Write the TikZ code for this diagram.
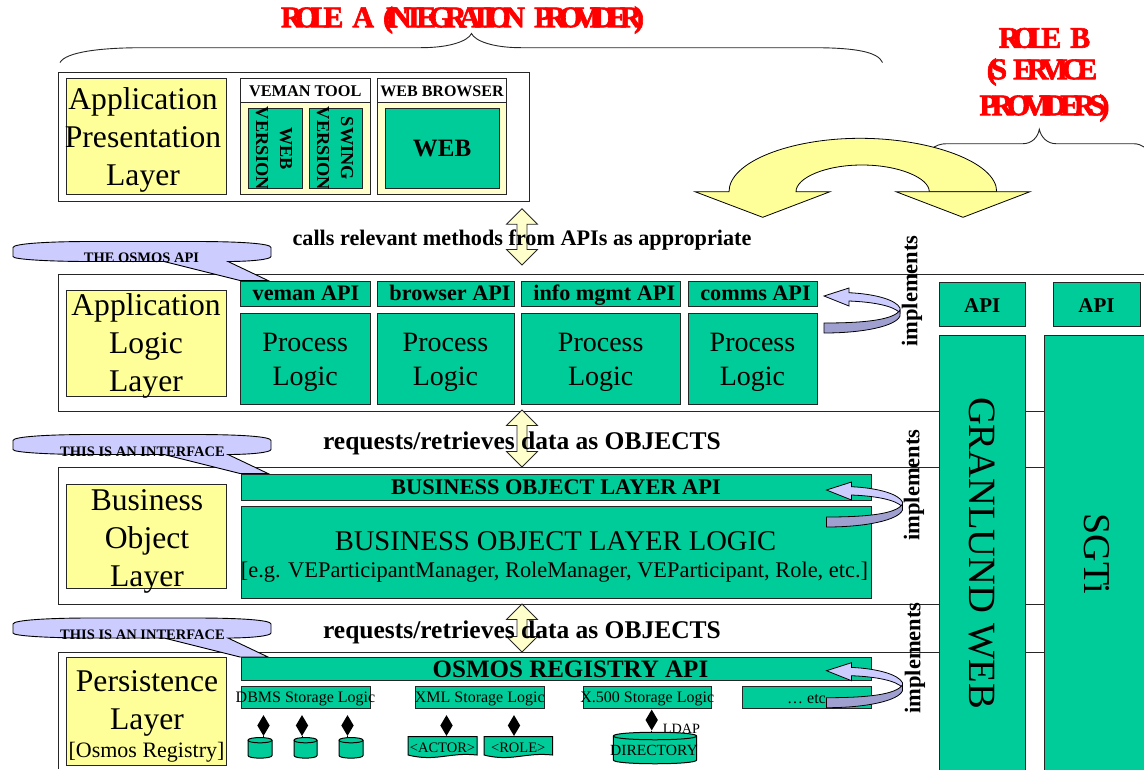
\documentclass[tikz,border=0pt]{standalone}
\usepackage{fontspec}
\setmainfont{Liberation Serif}
\newfontfamily\squeezefont[LetterSpace=-25,BoldFeatures={FakeBold=2}]{Liberation Serif}
\newfontfamily\squeezewider[LetterSpace=-21,BoldFeatures={FakeBold=2}]{Liberation Serif}
\usetikzlibrary{calc,positioning,shapes.geometric}
\definecolor{boxgreen}{HTML}{00CC99}
\definecolor{boxyellow}{HTML}{FFFF99}
\definecolor{paleyellow}{HTML}{FFFFCC}
\definecolor{notelilac}{HTML}{CCCCFF}
\definecolor{darklilac}{HTML}{A0A0D0}
\definecolor{rolered}{HTML}{FF0000}
% box from two corners, its text goes in a node of its own so it may overflow
\newcommand{\layerbox}[8][boxgreen]{
  \node[draw=black!85,line width=1pt,fill=#1,inner sep=0pt,outer sep=0pt,
        minimum width={(#5-#3)*1pt},minimum height={(#6-#4)*1pt}]
        (#2) at ({(#3+#5)/2},{(#4+#6)/2}) {};
  \node[align=center,inner sep=0pt,#7] (#2txt) at (#2) {#8};
}
% drum from two corners, its name is the middle of its top
\newcommand{\drum}[6]{
  \draw[line width=1pt,fill=boxgreen] (#2,#3+#6) .. controls (#2,#3) and (#4,#3) .. (#4,#3+#6)
    -- (#4,#5-#6) .. controls (#4,#5) and (#2,#5) .. (#2,#5-#6) -- cycle;
  \draw[line width=1pt] (#2,#3+#6) .. controls (#2,#3+2*#6) and (#4,#3+2*#6) .. (#4,#3+#6);
  \coordinate (#1) at ({(#2+#4)/2},#3);
}
\tikzset{
  txt/.style 2 args={font=\fontsize{#1}{#2}\selectfont},
  btxt/.style 2 args={font=\bfseries\fontsize{#1}{#2}\selectfont},
  layername/.style={txt={31.6}{38}},
  layerline/.style={draw=black!85,line width=1pt},
  bracket/.style={draw=black!85,line width=0.9pt},
  redtitle/.style={text=rolered,inner sep=0pt,font=\squeezefont\bfseries\fontsize{30}{35}\selectfont},
  vertword/.style={inner sep=0pt,rotate=90,btxt={22.5}{26}},
  blackdia/.style={diamond,fill=black,inner sep=0pt,minimum width=12.5pt,minimum height=21pt,aspect=1},
  pics/turnarrow/.style={code={
    \draw[black,line width=0.8pt,fill=notelilac] (0,0) -- (25,-8) -- (25,-3.3)
      .. controls (52,-2) and (72,4) .. (76,12) -- (76,17) .. controls (70,10) and (50,6) .. (25,5)
      -- (25,10) -- cycle;
    \draw[black,line width=0.8pt,fill=darklilac] (0,27) .. controls (40,27) and (70,24) .. (76,14)
      -- (76,20) .. controls (72,30) and (40,37) .. (0,37) -- cycle;
  }}
}
\begin{document}
\begin{tikzpicture}[x=1pt,y=-1pt]
\useasboundingbox (0,0) rectangle (1144,769);
% role titles and their braces
\node[redtitle] (rolea) at (462.5,20) {ROLE\hspace{9pt}A\hspace{9pt}(INTEGRATION\hspace{9pt}PROVIDER)};
\node[redtitle] (roleb) at (1044.5,38) {ROLE\hspace{9pt}B};
\node[redtitle,font=\squeezewider\bfseries\fontsize{30}{35}\selectfont] (rolebb) at (1042,72) {(S\kern6pt ERVICE};
\node[redtitle,font=\squeezewider\bfseries\fontsize{30}{35}\selectfont] (rolebc) at (1044.5,108) {PROVIDERS)};
\draw[bracket] (60,62.5) .. controls (66,52) and (100,47.7) .. (143,47.7) -- (421,47.7)
  .. controls (450,47.7) and (468,41) .. (471.5,33.5) .. controls (475,41) and (493,47.7) .. (521,47.7)
  -- (813,47.7) .. controls (856,47.7) and (878,52) .. (882.5,62.5);
\draw[bracket] (930,150) .. controls (936,145) and (941,143.7) .. (947,143.7) -- (1023,143.7)
  .. controls (1032,143.7) and (1038,137) .. (1039.3,129.3) .. controls (1041,137) and (1047,143.7) .. (1056,143.7)
  -- (1133,143.7) .. controls (1138,143.7) and (1141,145) .. (1144,147);
% big swap arrow
\draw[black,line width=0.8pt,fill=boxyellow] (695,191.7) -- (762.7,217.3) -- (830,191.7) -- (796,191.7)
  .. controls (796,178) and (825,165) .. (862,165) .. controls (899,165) and (929.3,178) .. (929.3,191.7)
  -- (996.7,191.7) .. controls (996.7,162) and (930,138.3) .. (860,138.3)
  .. controls (790,138.3) and (729,162) .. (729,191.7) -- cycle;
\draw[black,line width=0.8pt,fill=boxyellow] (896,191.7) -- (963,217.3) -- (1030,191.7) -- cycle;
% the layers
\layerbox[white]{presentation}{58}{72}{529}{201}{}{}
\draw[layerline] (1144,274) -- (58,274) -- (58,411) -- (1144,411);
\draw[layerline] (1144,467) -- (58,467) -- (58,604) -- (1144,604);
\draw[layerline] (1144,652) -- (58,652) -- (58,769);
% the notes on the interfaces
\foreach \nname/\ny/\ntext/\nx/\nd in {apinote/241.5/THE OSMOS API/141.5/16,
    bolnote/434.5/THIS IS AN INTERFACE/142.5/17, regnote/618/THIS IS AN INTERFACE/142.5/16.5}{
  \draw[black,line width=0.9pt,fill=notelilac,shift={(0,\ny)}] (13,6) .. controls (13,2) and (50,0) .. (90,0) -- (195,0)
    .. controls (240,0) and (271,2) .. (271,6) -- (271,15) .. controls (271,18) and (250,20) .. (228,20)
    -- (268,39) -- (240,39) -- (164,20) -- (90,20) .. controls (50,20) and (13,18) .. (13,15) -- cycle;
  \node[inner sep=0pt,btxt={14.5}{17}] (\nname) at (\nx,\ny+\nd) {\ntext};
}
% yellow name boxes
\layerbox[boxyellow]{apppres}{66}{78}{226}{194.5}{layername,xshift=-3pt,yshift=-4pt}{Application\\Presentation\\Layer}
\layerbox[boxyellow]{applogic}{66}{290}{226}{396}{layername,yshift=-3pt}{Application\\Logic\\Layer}
\layerbox[boxyellow]{busobj}{66}{484}{226}{588}{layername,xshift=1pt,yshift=-5pt}{Business\\Object\\Layer}
\layerbox[boxyellow]{persist}{66}{657}{226.5}{765}{}{}
\node[align=center,inner sep=0pt,layername] (persisttop) at (147,703) {Persistence\\Layer};
\node[inner sep=0pt,txt={22}{26}] (registry) at (146.5,752.5) {[Osmos Registry]};
% presentation layer
\layerbox[white]{vemanhead}{240.5}{78}{370}{102}{btxt={16.3}{19},yshift=-1pt}{VEMAN TOOL}
\layerbox[paleyellow]{vemanbody}{240.5}{102}{370}{194.5}{}{}
\layerbox[white]{webhead}{377.5}{78}{506.5}{102}{btxt={16}{19},yshift=-1pt}{WEB BROWSER}
\layerbox[paleyellow]{webbody}{377.5}{102}{506.5}{194.5}{}{}
\layerbox{webver}{248}{108}{302}{188.5}{}{}
\layerbox{swingver}{309}{108}{362.5}{188.5}{}{}
\layerbox{webapp}{385}{108}{499}{188.5}{btxt={25}{30}}{WEB}
\node[rotate=-90,align=center,inner sep=0pt,btxt={18.3}{24}] (webvertxt) at (274,148.5) {WEB\\VERSION};
\node[rotate=-90,align=center,inner sep=0pt,btxt={18.3}{24}] (swingvertxt) at (335,148.5) {SWING\\VERSION};
% application logic layer
\foreach \bname/\bl/\br/\bdx/\btext in {veman/240.5/370/0.75/veman API,browser/377/514/4.5/browser API,
    infomgmt/521/680.5/3.5/info mgmt API,comms/688/817/3/comms API}{
  \layerbox{\bname api}{\bl}{281}{\br}{306.5}{btxt={22.2}{26},xshift=\bdx pt,yshift=-1.5pt}{\strut\btext}
  \layerbox{\bname proc}{\bl}{313}{\br}{404}{txt={28}{34},yshift=-4pt}{Process\\Logic}
}
% business object layer
\layerbox{bolapi}{241}{474}{871}{500}{btxt={22.4}{26}}{BUSINESS OBJECT LAYER API}
\layerbox{bollogic}{241}{506}{871}{598}{}{}
\node[inner sep=0pt,txt={28.6}{33}] (bollogictop) at (555.5,541) {BUSINESS OBJECT LAYER LOGIC};
\node[inner sep=0pt,txt={22.4}{26}] (bollogiceg) at (554.5,572) {[e.g. VEParticipantManager, RoleManager, VEParticipant, Role, etc.]};
% persistence layer
\layerbox{regapi}{241}{657}{871}{680}{}{}
\node[inner sep=0pt,btxt={25}{29}] (regapitxt) at (570.5,669.5) {OSMOS REGISTRY API};
\layerbox{dbms}{241}{686}{370}{708.5}{txt={16}{19},yshift=-2pt}{DBMS Storage Logic}
\layerbox{xml}{415}{686}{544.5}{708.5}{txt={16}{19},yshift=-2pt}{XML Storage Logic}
\layerbox{xfive}{583}{686}{711.5}{708.5}{txt={16}{19},yshift=-2pt}{X.500 Storage Logic}
\layerbox{etcbox}{742}{686}{871}{708.5}{txt={16}{19},yshift=-2pt}{… etc}
\foreach \dname/\dx/\cname/\cl/\cr in {diaa/263.5/cyla/248/272,diab/302/cylb/294/317,diac/347.5/cylc/339/363}{
  \node[blackdia] (\dname) at (\dx,725.5) {};
  \drum{\cname}{\cl}{736.7}{\cr}{759}{3.5}
  \draw[line width=1pt] (\dname) -- (\dname |- \cname);
}
\node[blackdia] (diad) at (446.5,725.5) {};
\node[blackdia] (diae) at (514,725.5) {};
\foreach \dname/\dl/\dr/\dtxt in {actor/408/477/{<ACTOR>},role/484/552.5/{<ROLE>}}{
  \draw[line width=1pt,fill=boxgreen] (\dl,736.7) -- (\dr,736.7) -- (\dr,755)
    .. controls ({\dl+0.6*(\dr-\dl)},752) and ({\dl+0.4*(\dr-\dl)},762) .. (\dl,755) -- cycle;
  \node[inner sep=0pt,txt={14.5}{17}] (\dname) at ({(\dl+\dr)/2},748) {\dtxt};
}
\node[blackdia] (diaf) at (651.7,720) {};
\drum{directory}{613.3}{731}{696.7}{765}{5}
\draw[line width=1pt] (diaf) -- (diaf |- directory);
\node[inner sep=0pt,txt={15.5}{18}] (directorytxt) at (654,750) {DIRECTORY};
\node[inner sep=0pt,txt={14.2}{17}] (ldap) at (681.5,728.5) {LDAP};
% the two service providers
\layerbox{granapi}{939}{282}{1025.5}{326}{btxt={21}{25},yshift=-2pt}{API}
\layerbox{sgtiapi}{1053}{282}{1140}{326}{btxt={21}{25},yshift=-2pt}{API}
\layerbox{granlund}{939}{335}{1025.5}{775}{}{}
\layerbox{sgti}{1044.5}{335}{1150}{775}{}{}
\node[rotate=-90,inner sep=0pt,txt={38.6}{45}] (granlundtxt) at (982,553) {GRANLUND WEB};
\node[rotate=-90,inner sep=0pt,txt={38}{45}] (sgtitxt) at (1097,554) {SGTi};
% links between the layers
\foreach \aname/\atop/\abot in {callsarrow/208.7/265,objarrowa/410/467,objarrowb/604/652}{
  \draw[black!85,line width=0.8pt,fill=paleyellow] (522,\atop) -- (537.5,\atop+15.5) -- (527,\atop+15.5)
    -- (527,\abot-15.5) -- (537.5,\abot-15.5) -- (522,\abot) -- (506.5,\abot-15.5) -- (517,\abot-15.5)
    -- (517,\atop+15.5) -- (506.5,\atop+15.5) -- cycle;
  \coordinate (\aname) at (522,\atop);
}
\node[inner sep=0pt,btxt={22.2}{26}] (callstxt) at (522,240) {calls relevant methods from APIs as appropriate};
\node[inner sep=0pt,btxt={25.5}{30}] (objtxta) at (522,443) {requests/retrieves data as OBJECTS};
\node[inner sep=0pt,btxt={25.5}{30}] (objtxtb) at (522,632) {requests/retrieves data as OBJECTS};
% implementing arrows
\pic at (824,296) {turnarrow};
\pic at (826.5,490) {turnarrow};
\pic at (826.5,670.7) {turnarrow};
\node[vertword] (impla) at (912,291) {implements};
\node[vertword] (implb) at (914,485) {implements};
\node[vertword] (implc) at (915,658) {implements};
\end{tikzpicture}
\end{document}
